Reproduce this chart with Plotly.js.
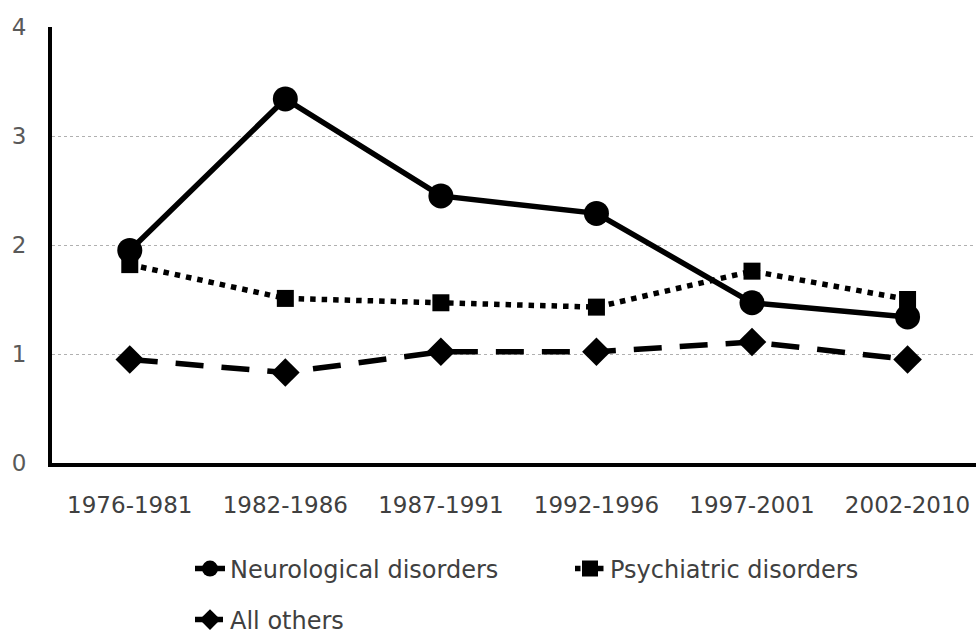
<!DOCTYPE html>
<html>
<head>
<meta charset="utf-8">
<script src="https://cdn.plot.ly/plotly-3.0.1.min.js"></script>
<style>html,body{margin:0;padding:0;background:#fff;}#chart{width:976px;height:639px;}</style>
</head>
<body>
<div id="chart"></div>
<script>
const periods = ["1976-1981", "1982-1986", "1987-1991", "1992-1996", "1997-2001", "2002-2010"];
const neurological = [1.95, 3.34, 2.45, 2.29, 1.47, 1.34];
const psychiatric = [1.82, 1.51, 1.47, 1.43, 1.76, 1.50];
const allOthers = [0.95, 0.83, 1.02, 1.02, 1.11, 0.95];
const yTicks = [0, 1, 2, 3, 4];

const FONT = "DejaVu Sans, Open Sans, sans-serif";

const traces = [
  {
    x: periods, y: neurological, name: "Neurological disorders", type: "scatter", mode: "lines+markers",
    line: {color: "#000", width: 5.5, dash: "solid"},
    marker: {symbol: "circle", size: 25, color: "#000"},
    legend: "legend"
  },
  {
    x: periods, y: psychiatric, name: "Psychiatric disorders", type: "scatter", mode: "lines+markers",
    line: {color: "#000", width: 5.5, dash: "5.5px,6px"},
    marker: {symbol: "square", size: 17, color: "#000"},
    legend: "legend"
  },
  {
    x: periods, y: allOthers, name: "All others", type: "scatter", mode: "lines+markers",
    line: {color: "#000", width: 5.5, dash: "28px,18px"},
    marker: {symbol: "diamond", size: 22, color: "#000"},
    legend: "legend2"
  }
];

const layout = {
  width: 976, height: 639,
  margin: {l: 52, r: 0, t: 27, b: 176, pad: 0},
  paper_bgcolor: "#fff", plot_bgcolor: "#fff",
  font: {family: FONT, size: 22, color: "#404040"},
  showlegend: true,
  xaxis: {
    type: "category", range: [-0.5, 5.44],
    showgrid: false, zeroline: false,
    showline: true, linecolor: "#000", linewidth: 4,
    ticks: "", ticklabelstandoff: 18,
    tickfont: {family: FONT, size: 23, color: "#404040"}
  },
  yaxis: {
    range: [0, 4], tickvals: yTicks, ticktext: yTicks.map(String),
    showgrid: true, gridcolor: "#b0b0b0", gridwidth: 1, griddash: "dot",
    zeroline: false,
    showline: true, linecolor: "#000", linewidth: 4,
    ticks: "", ticklabelstandoff: 17,
    tickfont: {family: FONT, size: 23, color: "#595959"}
  },
  legend: {
    orientation: "h", xref: "container", yref: "container",
    x: 190 / 976, xanchor: "left", y: 1 - 569 / 639, yanchor: "middle",
    entrywidthmode: "pixels", entrywidth: 335,
    font: {family: FONT, size: 24, color: "#404040"},
    bgcolor: "rgba(0,0,0,0)", traceorder: "normal"
  },
  legend2: {
    orientation: "h", xref: "container", yref: "container",
    x: 190 / 976, xanchor: "left", y: 1 - 620 / 639, yanchor: "middle",
    font: {family: FONT, size: 24, color: "#404040"},
    bgcolor: "rgba(0,0,0,0)"
  }
};

Plotly.newPlot("chart", traces, layout, {displayModeBar: false, staticPlot: true});
</script>
</body>
</html>
